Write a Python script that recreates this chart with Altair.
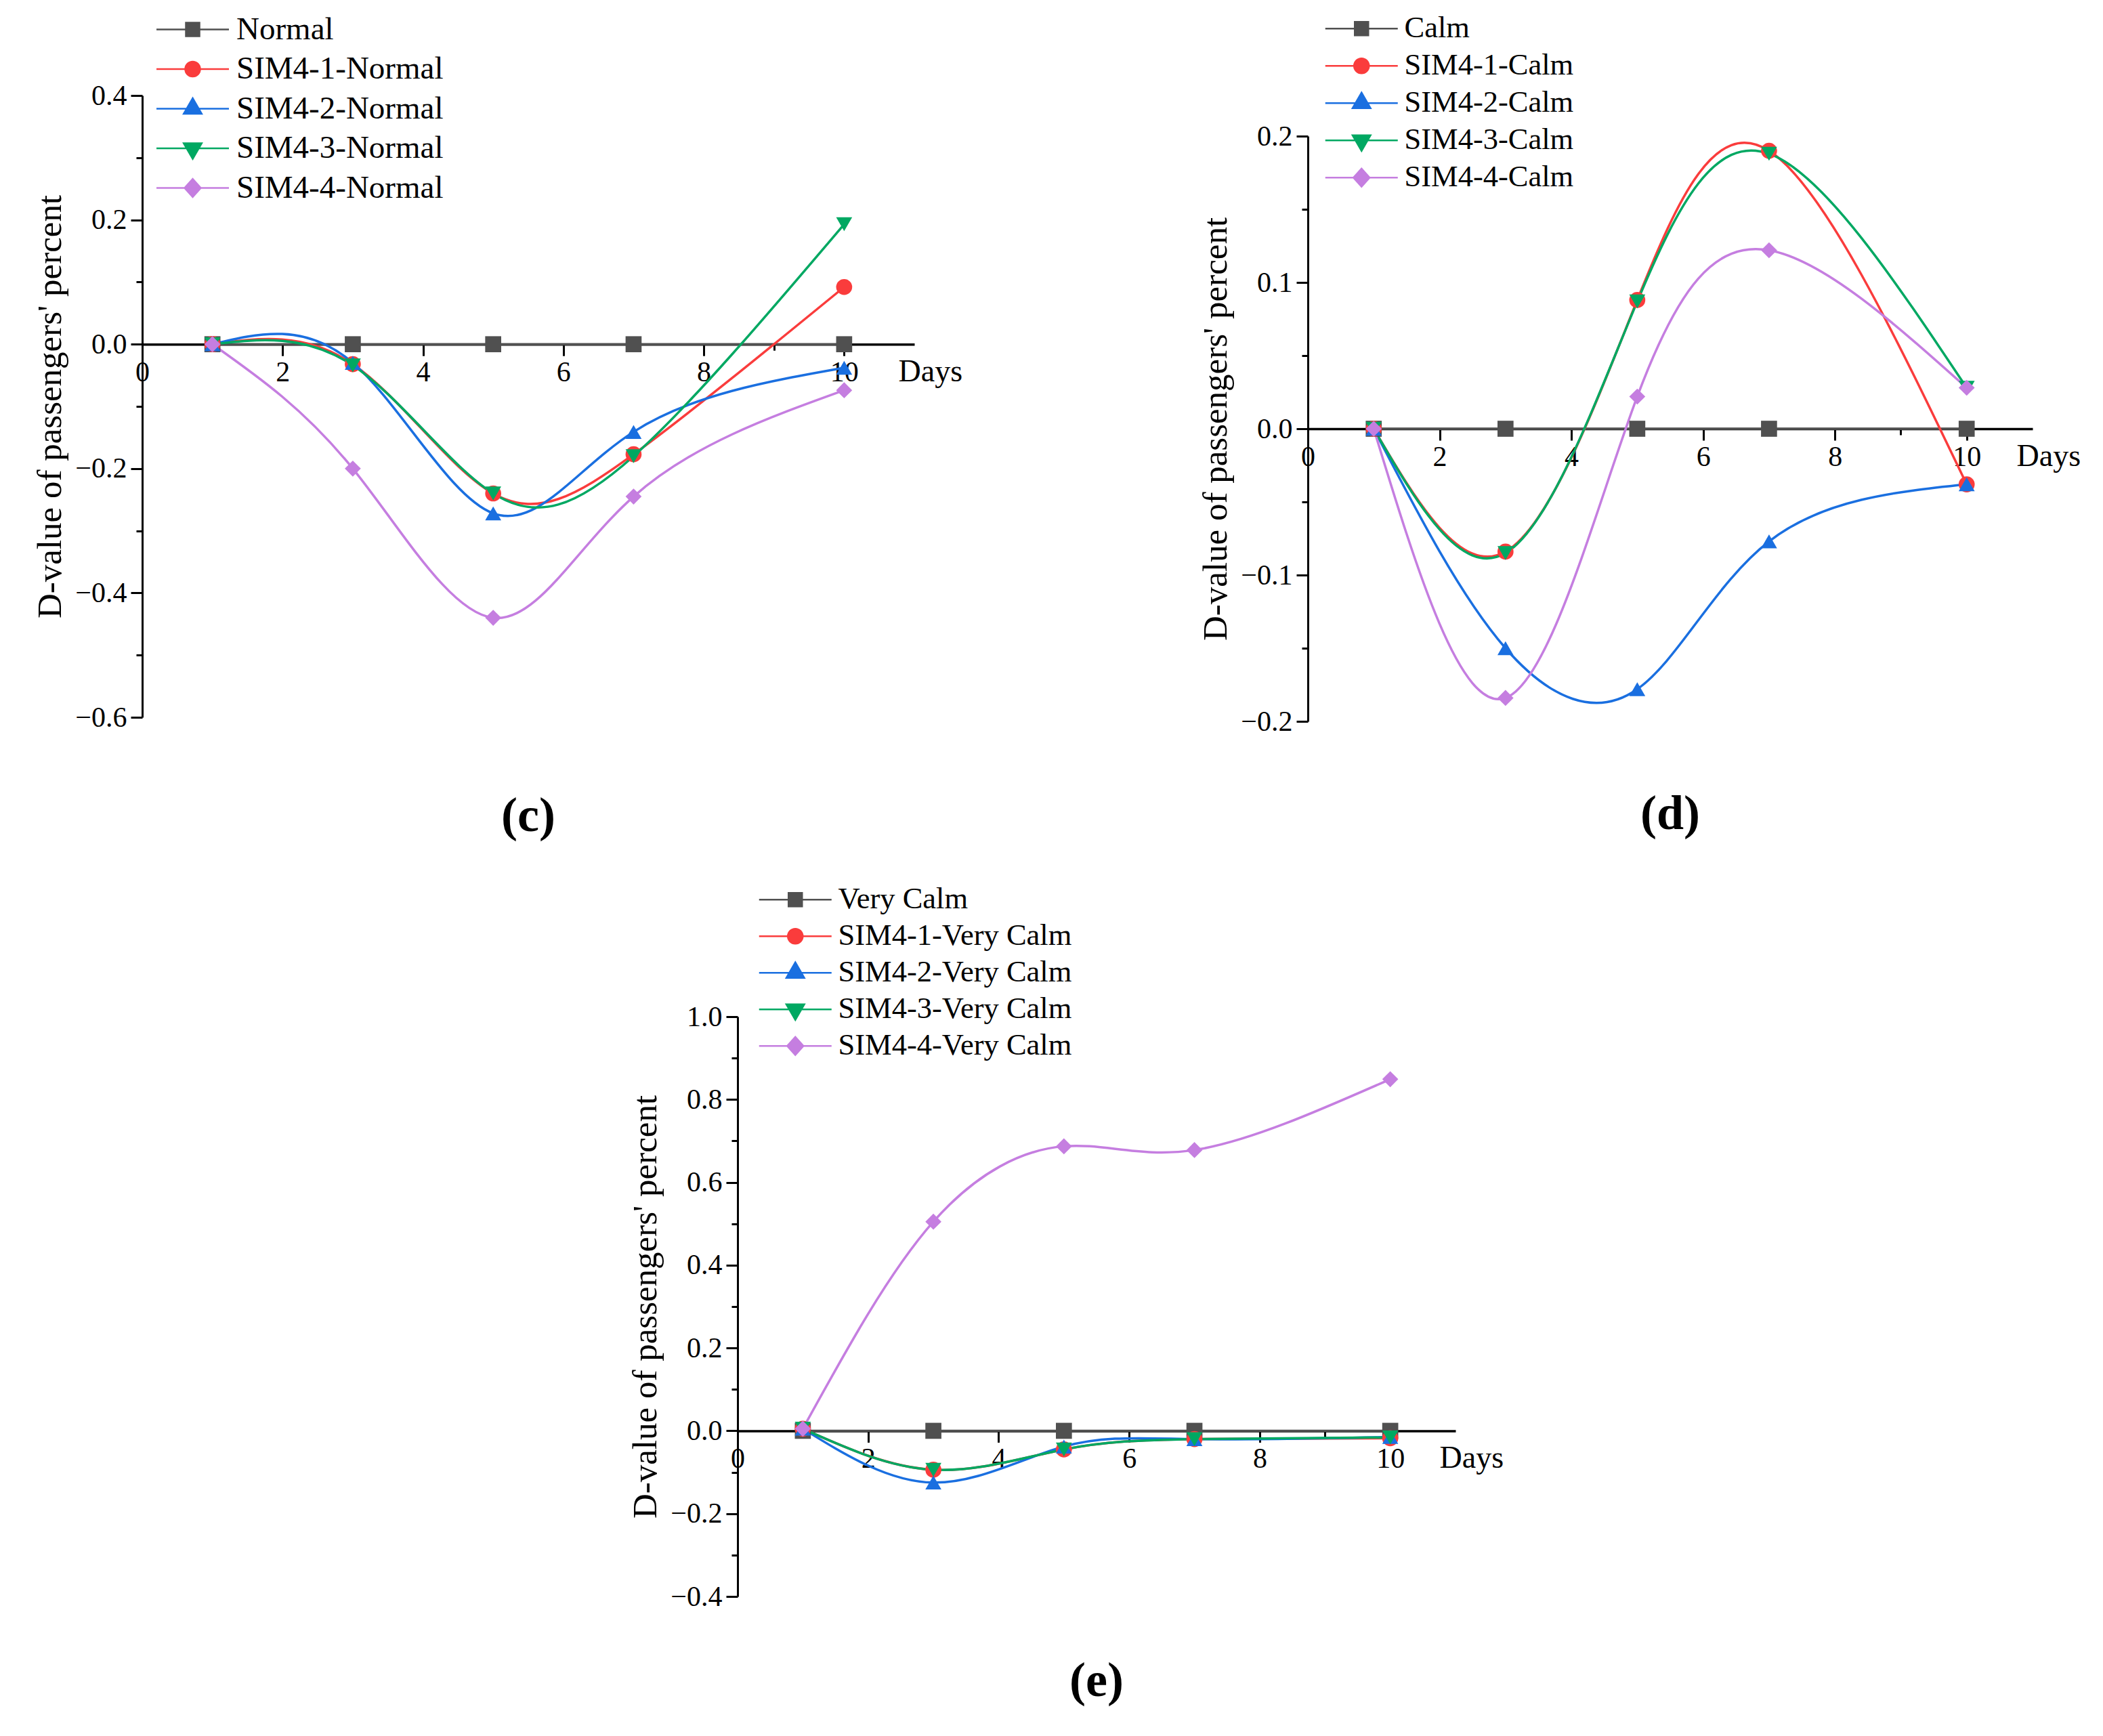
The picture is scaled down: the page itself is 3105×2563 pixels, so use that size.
import altair as alt
import pandas as pd

FONT = "Liberation Serif"

days = [1, 3, 5, 7, 10]

# (c) Normal
c_names = ["Normal", "SIM4-1-Normal", "SIM4-2-Normal", "SIM4-3-Normal", "SIM4-4-Normal"]
c_base = [0, 0, 0, 0, 0]
c_sim1 = [0, -0.032, -0.240, -0.177, 0.092]
c_sim2 = [0, -0.030, -0.272, -0.141, -0.038]
c_sim3 = [0, -0.034, -0.240, -0.180, 0.193]
c_sim4 = [0, -0.200, -0.440, -0.245, -0.074]

# (d) Calm
d_names = ["Calm", "SIM4-1-Calm", "SIM4-2-Calm", "SIM4-3-Calm", "SIM4-4-Calm"]
d_base = [0, 0, 0, 0, 0]
d_sim1 = [0, -0.084, 0.088, 0.190, -0.038]
d_sim2 = [0, -0.150, -0.178, -0.077, -0.038]
d_sim3 = [0, -0.085, 0.087, 0.188, 0.028]
d_sim4 = [0, -0.184, 0.022, 0.122, 0.028]

# (e) Very Calm
e_names = ["Very Calm", "SIM4-1-Very Calm", "SIM4-2-Very Calm", "SIM4-3-Very Calm", "SIM4-4-Very Calm"]
e_base = [0, 0, 0, 0, 0]
e_sim1 = [0.005, -0.094, -0.045, -0.020, -0.018]
e_sim2 = [0.005, -0.125, -0.038, -0.020, -0.015]
e_sim3 = [0.005, -0.094, -0.045, -0.020, -0.016]
e_sim4 = [0.005, 0.505, 0.687, 0.678, 0.849]

colors = ["#505050", "#fa3c3c", "#1a6fe0", "#00a862", "#c57ee0"]
shapes = ["square", "circle", "triangle-up", "triangle-down", "diamond"]
# legend symbols: line segment with the marker on it
legend_shapes = [
    "M-5.35,0H5.35M-1,-1H1V1H-1Z",
    "M-5.35,0H5.35M-1.1,0A1.1,1.1,0,1,0,1.1,0A1.1,1.1,0,1,0,-1.1,0Z",
    "M-5.35,0H5.35M0,-1.55L1.33,0.75L-1.33,0.75Z",
    "M-5.35,0H5.35M0,1.55L1.33,-0.75L-1.33,-0.75Z",
    "M-5.35,0H5.35M0,-1.33L1.2,0L0,1.33L-1.2,0Z",
]


def panel(names, series, ymin, ymax, major, minor, width, height, label,
          legend_x, legend_y, row_pad, legend_font, title_offset):
    rows = []
    for name, vals in zip(names, series):
        for d, v in zip(days, vals):
            rows.append({"day": d, "value": v, "series": name})
    df = pd.DataFrame(rows)

    n = int(round((ymax - ymin) / minor))
    yticks = [round(ymin + i * minor, 4) for i in range(n + 1)]
    y_major = f"abs(datum.value / {major} - round(datum.value / {major})) < 0.001"
    zero_offset = -height * (0 - ymin) / (ymax - ymin)

    x_axis = alt.Axis(
        values=list(range(0, 11)), format="d", offset=zero_offset,
        labelExpr="datum.value % 2 == 0 ? datum.label : ''",
        tickSize={"condition": {"test": "datum.value % 2 == 0", "value": 17}, "value": 9},
        title="Days", titleX=width - 24, titleY=40, titleAlign="left",
        titleBaseline="middle", titleAngle=0,
        grid=False, domainColor="black", domainWidth=3.5, tickColor="black", tickWidth=3,
        labelFont=FONT, labelFontSize=42, labelColor="black", labelPadding=4,
        labelFlush=False, labelOverlap=False,
        titleFont=FONT, titleFontSize=46, titleFontWeight="normal", titleColor="black",
    )
    y_axis = alt.Axis(
        values=yticks, format=".1f",
        labelExpr=f"{y_major} ? datum.label : ''",
        tickSize={"condition": {"test": y_major, "value": 17}, "value": 9},
        title="D-value of passengers' percent", titlePadding=10,
        grid=False, domainColor="black", domainWidth=3, tickColor="black", tickWidth=3,
        labelFont=FONT, labelFontSize=42, labelColor="black", labelPadding=6,
        labelFlush=False, labelOverlap=False,
        titleFont=FONT, titleFontSize=51, titleFontWeight="normal", titleColor="black",
    )

    base = alt.Chart(df).encode(
        x=alt.X("day:Q", scale=alt.Scale(domain=[0, 11], nice=False, zero=False), axis=x_axis),
        y=alt.Y("value:Q", scale=alt.Scale(domain=[ymin, ymax], nice=False, zero=False), axis=y_axis),
    )

    layers = []
    for name, col in zip(names, colors):
        layers.append(
            base.transform_filter(alt.datum.series == name)
            .mark_line(interpolate="natural", strokeWidth=3.5, color=col)
        )
    for name, col, shp in zip(names, colors, shapes):
        layers.append(
            base.transform_filter(alt.datum.series == name)
            .mark_point(filled=True, shape=shp, size=560, color=col, opacity=1)
        )

    leg = dict(
        orient="none", legendX=legend_x, legendY=legend_y, title=None,
        symbolSize=400, symbolStrokeWidth=2.5, symbolOpacity=1,
        labelFont=FONT, labelFontSize=legend_font, labelColor="black",
        labelOffset=41, labelLimit=2000, rowPadding=row_pad, padding=0,
    )
    cscale = alt.Scale(domain=names, range=colors)
    layers.append(
        base.mark_point(filled=True, opacity=0, size=400).encode(
            color=alt.Color("series:N", scale=cscale, legend=alt.Legend(**leg)),
            stroke=alt.Stroke("series:N", scale=cscale, legend=alt.Legend(**leg)),
            shape=alt.Shape("series:N", scale=alt.Scale(domain=names, range=legend_shapes),
                            legend=alt.Legend(**leg)),
        )
    )

    return alt.layer(*layers).properties(
        width=width, height=height,
        title=alt.TitleParams(label, orient="bottom", font=FONT, fontSize=72,
                              fontWeight="bold", color="black", offset=title_offset),
    )


def spacer(w, h):
    # invisible block used only to push panels into place
    return alt.Chart(pd.DataFrame({"v": [0]})).mark_point(opacity=0).encode(
        x=alt.X("v:Q", axis=None), y=alt.Y("v:Q", axis=None)
    ).properties(width=w, height=h)


pc = panel(c_names, [c_base, c_sim1, c_sim2, c_sim3, c_sim4], -0.6, 0.4, 0.2, 0.1,
           1140, 918, "(c)", 51, -121, 10.5, 47, 90)
pd_ = panel(d_names, [d_base, d_sim1, d_sim2, d_sim3, d_sim4], -0.2, 0.2, 0.1, 0.05,
            1070, 864, "(d)", 57, -181, 10, 44.5, 81)
pe = panel(e_names, [e_base, e_sim1, e_sim2, e_sim3, e_sim4], -0.4, 1.0, 0.2, 0.1,
           1060, 856, "(e)", 63, -195, 9, 44.5, 69)

indep = dict(color="independent", stroke="independent", shape="independent")

# each top panel sits under a thin spacer so the row lines up by the legends' tops
left = alt.vconcat(spacer(10, 1), pc, spacing=0).resolve_scale(**indep)
right = alt.vconcat(spacer(10, 1), pd_, spacing=0).resolve_scale(**indep)
top = alt.hconcat(left, right, spacing=348).resolve_scale(**indep)

bottom = alt.hconcat(spacer(717, 10), pe, spacing=0).resolve_scale(**indep)

chart = alt.vconcat(top, bottom, spacing=65).resolve_scale(**indep).properties(
    padding={"left": 40, "top": 5, "right": 5, "bottom": 5}
).configure(font=FONT).configure_view(stroke="transparent", strokeWidth=0)

chart.save("out.html", embed_options={"renderer": "svg", "actions": False})
